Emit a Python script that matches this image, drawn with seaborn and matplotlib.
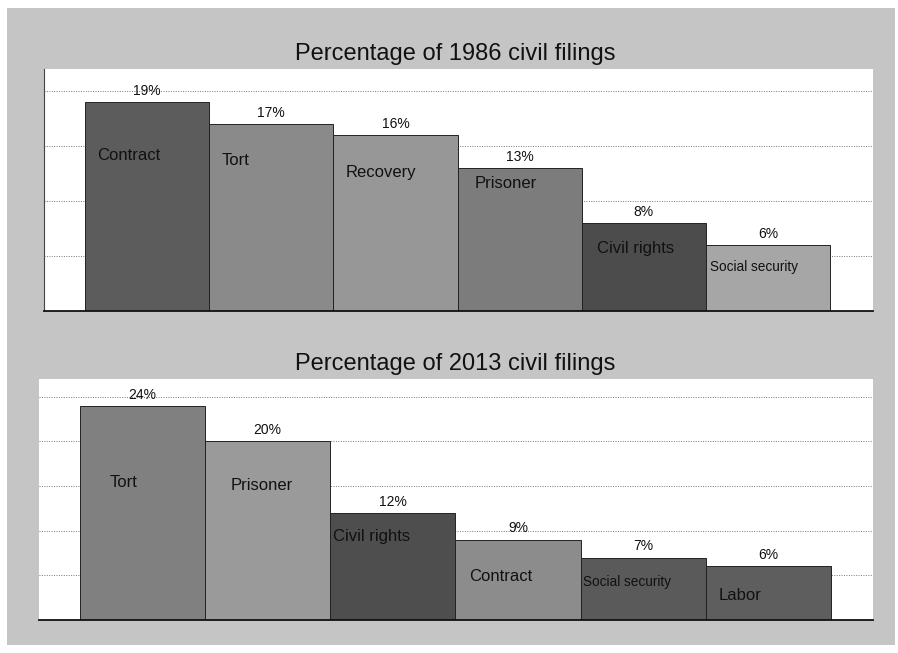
import matplotlib
matplotlib.use("Agg")
import matplotlib.pyplot as plt
import matplotlib.patches as mpatches
import seaborn as sns
import pandas as pd

# Share of civil filings by case type
cats_1986 = ["Contract", "Tort", "Recovery", "Prisoner", "Civil rights", "Social security"]
vals_1986 = [19, 17, 16, 13, 8, 6]

cats_2013 = ["Tort", "Prisoner", "Civil rights", "Contract", "Social security", "Labor"]
vals_2013 = [24, 20, 12, 9, 7, 6]

titles = ["Percentage of 1986 civil filings", "Percentage of 2013 civil filings"]

# Bar fills (grey tones per bar)
colors_1986 = ["#5c5c5c", "#8a8a8a", "#979797", "#7c7c7c", "#4c4c4c", "#a6a6a6"]
colors_2013 = ["#808080", "#9a9a9a", "#4e4e4e", "#8c8c8c", "#5a5a5a", "#5e5e5e"]

# Placement of the category names inside the bars: (x offset from bar's left edge, y in data units)
name_pos_1986 = [(0.10, 14.1), (0.10, 13.7), (0.10, 12.6), (0.14, 11.6), (0.12, 5.7), (0.03, 4.0)]
name_pos_2013 = [(0.24, 15.4), (0.20, 15.1), (0.02, 9.4), (0.11, 4.9), (0.02, 4.3), (0.10, 2.8)]

plt.rcParams["font.family"] = ["Liberation Sans", "DejaVu Sans"]

fig = plt.figure(figsize=(8.98, 6.53), dpi=100)
fig.patch.set_facecolor("white")
fig.patches.append(mpatches.Rectangle((7 / 898, 8 / 653), 888 / 898, 637 / 653,
                                      transform=fig.transFigure, facecolor="#c5c5c5",
                                      edgecolor="none", zorder=-10))

panels = [
    dict(cats=cats_1986, vals=vals_1986, colors=colors_1986, pos=name_pos_1986,
         rect=[44 / 898, 1 - 311 / 653, 829 / 898, 242 / 653], ylim=22,
         xlim=(-0.83, 5.845), ticks=[5, 10, 15, 20], title_y=1 - 54 / 653, left_spine=True),
    dict(cats=cats_2013, vals=vals_2013, colors=colors_2013, pos=name_pos_2013,
         rect=[39 / 898, 1 - 620 / 653, 834 / 898, 241 / 653], ylim=27,
         xlim=(-0.827, 5.835), ticks=[5, 10, 15, 20, 25], title_y=1 - 364 / 653, left_spine=False),
]

for p, title in zip(panels, titles):
    ax = fig.add_axes(p["rect"])
    ax.set_facecolor("white")
    df = pd.DataFrame({"cat": p["cats"], "val": p["vals"]})
    sns.barplot(data=df, x="cat", y="val", hue="cat", palette=p["colors"], legend=False,
                width=1.0, edgecolor="#222222", linewidth=0.7, saturation=1, ax=ax)
    ax.set_ylim(0, p["ylim"])
    ax.set_xlim(*p["xlim"])
    ax.set_yticks(p["ticks"])
    ax.set_axisbelow(True)
    ax.yaxis.grid(True, linestyle=(0, (1, 1.5)), color="#777777", linewidth=0.7)
    ax.xaxis.grid(False)
    ax.tick_params(left=False, bottom=False, labelleft=False, labelbottom=False)
    ax.set_xlabel("")
    ax.set_ylabel("")
    for side in ["top", "right"]:
        ax.spines[side].set_visible(False)
    ax.spines["bottom"].set_color("#111111")
    ax.spines["bottom"].set_linewidth(1.3)
    if p["left_spine"]:
        ax.spines["left"].set_color("#444444")
        ax.spines["left"].set_linewidth(0.8)
    else:
        ax.spines["left"].set_visible(False)

    for cont in ax.containers:
        ax.bar_label(cont, labels=[f"{v:g}%" for v in cont.datavalues],
                     padding=3, fontsize=10, color="#111111")

    for i, (name, (dx, y)) in enumerate(zip(p["cats"], p["pos"])):
        size = 9.8 if name == "Social security" else 12
        ax.text(i - 0.5 + dx, y, name, ha="left", va="center", fontsize=size, color="#111111")

    fig.text(0.507, p["title_y"], title, ha="center", va="center", fontsize=17, color="#111111")

fig.savefig("out.png", dpi=100, facecolor=fig.get_facecolor())
